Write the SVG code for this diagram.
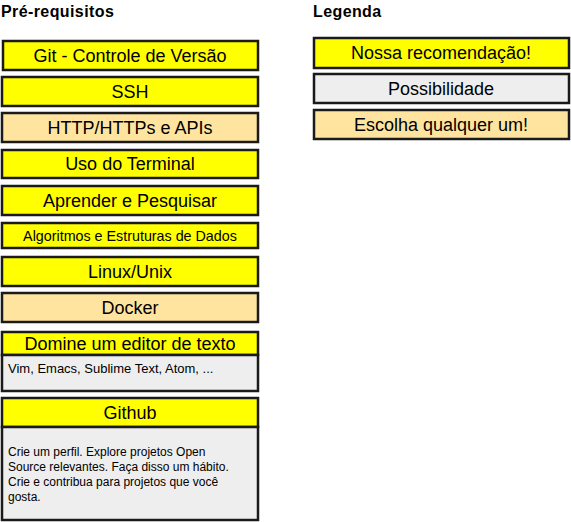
<svg xmlns="http://www.w3.org/2000/svg" width="571" height="522" viewBox="0 0 571 522">
<style>
.b{stroke:#1a1a1a;stroke-width:2.5;}
.y{fill:#ffff00;}
.o{fill:#ffe4a0;}
.g{fill:#eeeeee;}
.t{font-family:"Liberation Sans",Arial,sans-serif;font-size:18px;fill:#000;text-anchor:middle;}
.s{font-family:"Liberation Sans",Arial,sans-serif;font-size:12px;fill:#000;}
.h{font-family:"Liberation Sans",Arial,sans-serif;font-size:16px;font-weight:bold;fill:#000;letter-spacing:0.4px;}
</style>
<rect width="571" height="522" fill="#fff"/>
<text class="h" x="1" y="17">Pré-requisitos</text>
<text class="h" x="313" y="17">Legenda</text>
<g id="git"><rect class="b y" x="3" y="41" width="255" height="29"/><text class="t" x="130" y="62">Git - Controle de Versão</text></g>
<g id="ssh"><rect class="b y" x="2" y="77" width="256" height="29"/><text class="t" x="130" y="98">SSH</text></g>
<g id="http"><rect class="b o" x="2" y="113" width="256" height="29"/><text class="t" x="130" y="134">HTTP/HTTPs e APIs</text></g>
<g id="terminal"><rect class="b y" x="2" y="150" width="256" height="28"/><text class="t" x="130" y="170">Uso do Terminal</text></g>
<g id="aprender"><rect class="b y" x="2" y="186" width="256" height="29"/><text class="t" x="130" y="207">Aprender e Pesquisar</text></g>
<g id="algoritmos"><rect class="b y" x="2" y="223" width="256" height="25"/><text class="t" x="130" y="241" style="font-size:14.3px">Algoritmos e Estruturas de Dados</text></g>
<g id="linux"><rect class="b y" x="2" y="257" width="256" height="29"/><text class="t" x="130" y="278">Linux/Unix</text></g>
<g id="docker"><rect class="b o" x="2" y="293" width="256" height="29"/><text class="t" x="130" y="314">Docker</text></g>
<g id="editor"><rect class="b y" x="2" y="332" width="256" height="23"/><text class="t" x="130" y="350">Domine um editor de texto</text>
<rect class="b g" x="2" y="355" width="256" height="36"/><text class="s" x="8" y="373" style="font-size:13px">Vim, Emacs, Sublime Text, Atom, ...</text></g>
<g id="github"><rect class="b y" x="2" y="398" width="256" height="29"/><text class="t" x="130" y="419">Github</text>
<rect class="b g" x="2" y="427" width="256" height="93"/>
<text class="s" x="8" y="456">Crie um perfil. Explore projetos Open</text>
<text class="s" x="8" y="471">Source relevantes. Faça disso um hábito.</text>
<text class="s" x="8" y="486">Crie e contribua para projetos que você</text>
<text class="s" x="8" y="501">gosta.</text></g>
<g id="legend-rec"><rect class="b y" x="314" y="38" width="255" height="30"/><text class="t" x="441" y="59">Nossa recomendação!</text></g>
<g id="legend-pos"><rect class="b g" x="314" y="74" width="255" height="29"/><text class="t" x="441" y="95">Possibilidade</text></g>
<g id="legend-any"><rect class="b o" x="314" y="110" width="255" height="29"/><text class="t" x="441" y="131">Escolha qualquer um!</text></g>
<g id="connectors"></g>
</svg>
